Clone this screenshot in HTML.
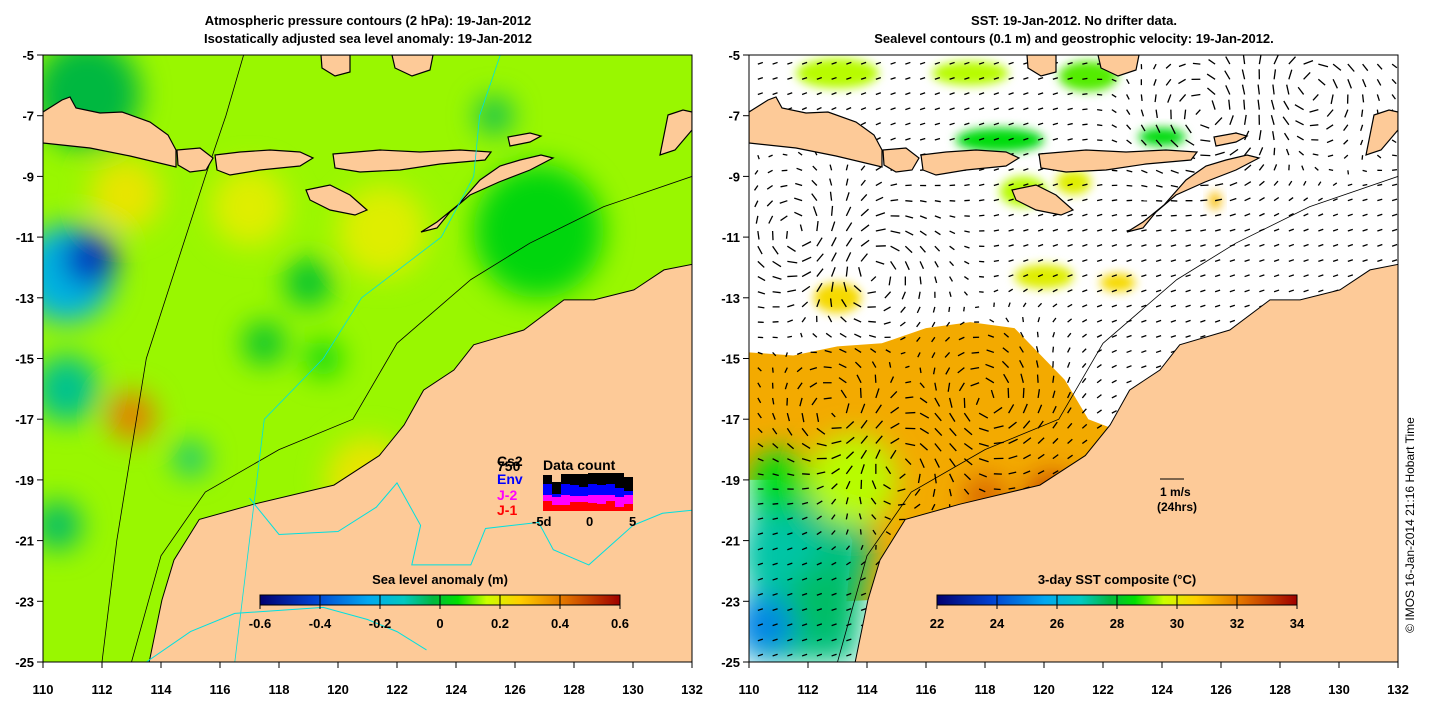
<!DOCTYPE html>
<html><head><meta charset="utf-8"><style>
html,body{margin:0;padding:0;background:#fff;}
svg{display:block;font-family:"Liberation Sans",sans-serif;}
</style></head><body>
<svg id="chart" width="1440" height="710" viewBox="0 0 1440 710">
<defs>
<filter id="blur" x="-50%" y="-50%" width="200%" height="200%"><feGaussianBlur stdDeviation="14"/></filter>
<filter id="blur2" x="-50%" y="-50%" width="200%" height="200%"><feGaussianBlur stdDeviation="5"/></filter>
<clipPath id="clipL"><rect x="43" y="55" width="649" height="607"/></clipPath>
<clipPath id="clipR"><rect x="749" y="55" width="649" height="607"/></clipPath>
<linearGradient id="slaGrad" x1="0" x2="1" y1="0" y2="0">
<stop offset="0" stop-color="#000070"/><stop offset="0.15" stop-color="#0040d0"/><stop offset="0.3" stop-color="#00a8f0"/>
<stop offset="0.4" stop-color="#00c8c0"/><stop offset="0.48" stop-color="#00b840"/><stop offset="0.55" stop-color="#00e000"/>
<stop offset="0.63" stop-color="#ccff00"/><stop offset="0.72" stop-color="#ffd000"/><stop offset="0.85" stop-color="#e07000"/><stop offset="1" stop-color="#a00000"/>
</linearGradient>
</defs>
<g id="left"></g>
<g id="right"></g>
<g id="axes"></g>
<text x="1414" y="525" font-size="12" text-anchor="middle" transform="rotate(-90 1414 525)">© IMOS 16-Jan-2014 21:16 Hobart Time</text>
</svg>
<script>
const lonTicks=[110,112,114,116,118,120,122,124,126,128,130,132];
const latTicks=[-5,-7,-9,-11,-13,-15,-17,-19,-21,-23,-25];
const slaTicks=[-0.6,-0.4,-0.2,0,0.2,0.4,0.6];
const sstTicks=[22,24,26,28,30,32,34];
const australia=[[113.6,-25],[114.03,-22.96],[114.44,-21.64],[115.3,-20.3],[117.15,-19.8],[119.86,-19.17],[121.4,-18.2],[122.24,-17.19],[122.9,-16.04],[123.93,-15.38],[124.6,-14.55],[126.3,-14.06],[127.66,-13.07],[128.68,-13.07],[130.03,-12.74],[131.05,-12.08],[132,-11.9],[132,-25]];
const W=649,H=607;
const pxLL=p=>[110+(p[0]-43)*22/W,-5-(p[1]-55)*20/H];
const islandsPx={
 java:[[43,112],[62,100],[70,97],[76,108],[100,113],[122,112],[150,122],[168,135],[176,150],[176,167],[130,156],[90,148],[43,143]],
 bali:[[177,150],[200,148],[213,158],[206,170],[190,172],[178,165]],
 sumbawa:[[215,155],[240,152],[270,150],[300,152],[313,158],[300,166],[260,170],[230,175],[217,170]],
 flores:[[333,154],[380,150],[420,152],[460,150],[491,152],[485,160],[440,164],[400,170],[360,172],[335,168]],
 sumba:[[306,190],[330,185],[350,195],[367,210],[355,215],[330,210],[310,200]],
 timor:[[421,232],[437,222],[458,205],[480,180],[500,166],[520,160],[541,155],[553,158],[530,170],[499,182],[470,195],[450,212],[437,228]],
 sulawesi:[[321,55],[350,55],[350,72],[335,76],[322,68]],
 buton:[[392,55],[433,55],[430,70],[412,76],[395,68]],
 wetar:[[508,137],[530,133],[541,136],[530,142],[510,146]],
 tanimbar:[[668,115],[683,110],[692,112],[692,130],[675,150],[660,155]]
};
const islands=Object.fromEntries(Object.entries(islandsPx).map(([k,v])=>[k,v.map(pxLL)]));
const slaBlobs=[[110.8,-12.2,-0.2,1.6],[111.6,-11.7,-0.45,0.9],[113,-16.9,0.4,0.8],[115,-18.3,-0.08,0.55],[111.5,-6.3,-0.02,1.8],[125.3,-7,-0.04,0.6],[119,-12.5,0.0,0.8],[117.5,-14.5,0.0,0.7],[110.8,-16,-0.08,1.1],[110.5,-20.5,-0.05,0.8],[126.8,-10.8,0.04,2.2],[121,-19,0.22,1.4],[121.5,-10.8,0.2,1.5],[112.8,-9.6,0.22,1.2],[117,-10,0.2,1.3],[119.5,-15,0.04,0.6]];
const sstBlobs=[[111,-21.5,27,1.3],[110.5,-23.8,25,1.0],[112.5,-23,27.5,1.2],[120.3,-19.7,33,0.9],[118,-19.6,32.5,0.7],[113.5,-19,29.5,1.5],[111,-19,28.5,1.0]];
const eddies=[[111.8,-11,1],[113,-16.9,1],[115,-18.3,-1],[114,-12,-1],[125.5,-7,1],[129,-6,-1],[118,-16.5,1]];
const X=(lon,o)=>o+(lon-110)*W/22, Y=lat=>55+(-5-lat)*H/20;
const NS='http://www.w3.org/2000/svg';
function mk(p,t,a){const e=document.createElementNS(NS,t);for(const k in a)e.setAttribute(k,a[k]);p.appendChild(e);return e;}
function pts(arr,o){return arr.map(p=>X(p[0],o).toFixed(1)+','+Y(p[1]).toFixed(1)).join(' ');}
function slaColor(v){const s=[[-0.6,[0,0,112]],[-0.42,[0,64,208]],[-0.24,[0,168,240]],[-0.12,[0,200,192]],[-0.02,[0,184,64]],[0.06,[0,224,0]],[0.16,[204,255,0]],[0.27,[255,208,0]],[0.42,[224,112,0]],[0.6,[160,0,0]]];
for(let i=0;i<s.length-1;i++){if(v<=s[i+1][0]){const t=Math.max(0,(v-s[i][0])/(s[i+1][0]-s[i][0]));const c=s[i][1].map((a,j)=>Math.round(a+(s[i+1][1][j]-a)*t));return `rgb(${c})`;}}return 'rgb(160,0,0)';}
function sstColor(v){return slaColor((v-28)/10);}
function land(g,o){
 const p=mk(g,'polygon',{points:pts(australia,o),fill:'#fdca98',stroke:'#000','stroke-width':1});
 
 Object.entries(islands).forEach(([k,v])=>{const e=mk(g,'polygon',{points:pts(v,o),fill:'#fdca98',stroke:'#000','stroke-width':1.2});
  });
}
const L=document.getElementById('left');
const lg=mk(L,'g',{'clip-path':'url(#clipL)'});
mk(lg,'rect',{x:43,y:55,width:W,height:H,fill:slaColor(0.135)});
const lb=mk(lg,'g',{filter:'url(#blur)'});
slaBlobs.forEach(b=>{const e=mk(lb,'ellipse',{cx:X(b[0],43),cy:Y(b[1]),rx:b[3]*W/22,ry:b[3]*H/20,fill:slaColor(b[2])});
 });
mk(lg,'polyline',{points:pts([[116.8,-5],[116.2,-7],[115.5,-9],[114.5,-12],[113.5,-15],[113,-18],[112.5,-21],[112,-25]],43),fill:'none',stroke:'#000','stroke-width':0.8});
mk(lg,'polyline',{points:pts([[132,-9],[129,-10],[126.5,-11.2],[124.5,-12.4],[122,-14.5],[120.5,-17],[118,-18],[115.5,-19.4],[114,-21.5],[113,-25]],43),fill:'none',stroke:'#000','stroke-width':0.8});
land(lg,43);
mk(lg,'polyline',{points:pts([[117,-19.6],[118,-20.8],[120,-20.7],[121.3,-19.9],[122,-19.1],[122.8,-20.5],[122.5,-21.8],[124.5,-21.8],[125,-20.6],[126.8,-20.4],[127.3,-21.3],[128.5,-21.8],[130,-20.5],[131,-20.1],[132,-20]],43),fill:'none',stroke:'#00e0e0','stroke-width':1});
mk(lg,'polyline',{points:pts([[113.5,-25],[115,-24],[116.5,-23.4],[119.5,-23.2],[121,-23.6],[122,-24],[123,-24.6]],43),fill:'none',stroke:'#00e0e0','stroke-width':1});
mk(lg,'polyline',{points:pts([[125.5,-5],[124.8,-7],[124.6,-9],[123.5,-11],[120.8,-13],[119.5,-15],[117.5,-17],[117,-21],[116.5,-25]],43),fill:'none',stroke:'#00e0e0','stroke-width':0.8});
const ins=mk(L,'g',{});
const dcBlack=[36,29,37,37,37,38,38,38,38,34];
const dcBlue=[27,17,27,26,24,27,26,27,23,20];
const dcMag=[16,14,16,15,15,16,16,16,14,16];
const dcRed=[10,6,6,9,9,8,7,10,4,7];
const ix0=543,iy0=511,bw=9;
[[dcBlack,'#000'],[dcBlue,'#0000ff'],[dcMag,'#ff00ff'],[dcRed,'#ff0000']].forEach(s=>s[0].forEach((v,i)=>{const r=mk(ins,'rect',{x:ix0+i*bw,y:iy0-v,width:bw,height:v,fill:s[1]});
 }));
mk(ins,'text',{x:543,y:470,'font-size':14,'font-weight':'bold'}).textContent='Data count';
mk(ins,'text',{x:532,y:526,'font-size':13,'font-weight':'bold'}).textContent='-5d';
mk(ins,'text',{x:586,y:526,'font-size':13,'font-weight':'bold'}).textContent='0';
mk(ins,'text',{x:629,y:526,'font-size':13,'font-weight':'bold'}).textContent='5';
[['Cs2','#000',466],['750','#000',471],['Env','#0000ff',484],['J-2','#ff00ff',500],['J-1','#ff0000',515]].forEach(l=>{const t=mk(ins,'text',{x:497,y:l[2],'font-size':14,'font-weight':'bold',fill:l[1]});t.textContent=l[0];});
const R=document.getElementById('right');
const rg=mk(R,'g',{'clip-path':'url(#clipR)'});
mk(rg,'rect',{x:749,y:55,width:W,height:H,fill:'#fff'});
const orange=[[110,-14.8],[111.5,-14.9],[113,-14.6],[114.5,-14.5],[116,-14],[117.5,-13.8],[119,-14],[120,-15],[120.7,-15.7],[121.5,-17],[122.3,-17.3],[122.24,-17.19],[121.4,-18.2],[119.86,-19.17],[117.15,-19.8],[115.3,-20.3],[114.44,-21.64],[114.03,-22.96],[113.3,-23],[113.5,-21],[113,-20],[111,-19],[110,-19]];
const op=mk(rg,'polygon',{points:pts(orange,749),fill:sstColor(31.3)});

const sb=mk(rg,'g',{filter:'url(#blur)'});
mk(sb,'polygon',{points:pts([[110,-18.7],[113,-19.5],[114.2,-20.8],[113.9,-22.5],[113.6,-25],[110,-25]],749),fill:sstColor(27.3)});
sstBlobs.forEach(b=>{const e=mk(sb,'ellipse',{cx:X(b[0],749),cy:Y(b[1]),rx:b[3]*W/22,ry:b[3]*H/20,fill:sstColor(b[2])});
 });
const patches=[[113,-5.6,1.4,0.5,29.5],[117.5,-5.6,1.3,0.4,29.5],[118.5,-7.8,1.5,0.4,28.5],[121.5,-5.7,1.0,0.5,29],[119.3,-9.5,0.8,0.5,29.5],[121,-9.2,0.6,0.4,30],[124,-7.7,0.8,0.3,28.5],[120,-12.3,1,0.4,30],[122.5,-12.5,0.6,0.3,30.5],[113,-13,0.8,0.5,30.5],[125.8,-9.8,0.2,0.3,31]];
patches.forEach(p=>{const e=mk(rg,'ellipse',{cx:X(p[0],749),cy:Y(p[1]),rx:p[2]*W/22,ry:p[3]*H/20,fill:sstColor(p[4]),filter:'url(#blur2)'});
 });
mk(rg,'polyline',{points:pts([[132,-9],[129,-10],[126.5,-11.2],[124.5,-12.4],[122,-14.5],[120.5,-17],[118,-18],[115.5,-19.4],[114,-21.5],[113,-25]],749),fill:'none',stroke:'#000','stroke-width':0.8});
const ag=mk(rg,'g',{stroke:'#000','stroke-width':1.3});
for(let lon=110.3;lon<132;lon+=0.5){for(let lat=-5.3;lat>-25;lat-=0.5){
 let u=0.15,v=0.05;eddies.forEach(e=>{const dx=lon-e[0],dy=lat-e[1],d2=dx*dx+dy*dy+0.3;const f=e[2]*Math.exp(-d2/5)*1.2;u+=-dy*f/Math.sqrt(d2);v+=dx*f/Math.sqrt(d2);});
 const m=Math.hypot(u,v)||1,len=Math.min(10,4+m*8);const cx=X(lon,749),cy=Y(lat);
 mk(ag,'line',{x1:cx,y1:cy,x2:cx+u/m*len,y2:cy-v/m*len});}}
land(rg,749);
mk(R,'line',{x1:1160,y1:479,x2:1184,y2:479,stroke:'#000','stroke-width':1});
mk(R,'text',{x:1160,y:496,'font-size':12,'font-weight':'bold'}).textContent='1 m/s';
mk(R,'text',{x:1157,y:511,'font-size':12,'font-weight':'bold'}).textContent='(24hrs)';
const A=document.getElementById('axes');
[[43,'left'],[749,'right']].forEach(([o,nm])=>{
 mk(A,'rect',{x:o,y:55,width:W,height:H,fill:'none',stroke:'#000','stroke-width':1});
 lonTicks.forEach(t=>{const x=X(t,o);mk(A,'line',{x1:x,y1:662,x2:x,y2:668,stroke:'#000'});
  const tx=mk(A,'text',{x:x,y:694,'font-size':13,'font-weight':'bold','text-anchor':'middle'});tx.textContent=t;
  });
 latTicks.forEach(t=>{const y=Y(t);mk(A,'line',{x1:o-6,y1:y,x2:o,y2:y,stroke:'#000'});
  const tx=mk(A,'text',{x:o-9,y:y+5,'font-size':13,'font-weight':'bold','text-anchor':'end'});tx.textContent=t;
  });
});
function titles(cx,l1,l2){mk(A,'text',{x:cx,y:25,'font-size':13,'font-weight':'bold','text-anchor':'middle'}).textContent=l1;
 mk(A,'text',{x:cx,y:43,'font-size':13,'font-weight':'bold','text-anchor':'middle'}).textContent=l2;}
titles(368,'Atmospheric pressure contours (2 hPa): 19-Jan-2012','Isostatically adjusted sea level anomaly: 19-Jan-2012');
titles(1074,'SST: 19-Jan-2012. No drifter data.','Sealevel contours (0.1 m) and geostrophic velocity: 19-Jan-2012.');
function cbar(x0,ticks,title,nm){const w=360,y0=595;
 const t=mk(A,'text',{x:x0+w/2,y:584,'font-size':13,'font-weight':'bold','text-anchor':'middle'});t.textContent=title;
 const r=mk(A,'rect',{x:x0,y:y0,width:w,height:10,fill:'url(#slaGrad)',stroke:'#000','stroke-width':1});
 
 ticks.forEach((v,i)=>{const x=x0+i*w/(ticks.length-1);mk(A,'line',{x1:x,y1:y0,x2:x,y2:y0+14,stroke:'#000'});
  mk(A,'text',{x:x,y:628,'font-size':13,'font-weight':'bold','text-anchor':'middle'}).textContent=v;});}
cbar(260,slaTicks,'Sea level anomaly (m)','sla-colorbar');
cbar(937,sstTicks,'3-day SST composite (°C)','sst-colorbar');
</script>
</body></html>
